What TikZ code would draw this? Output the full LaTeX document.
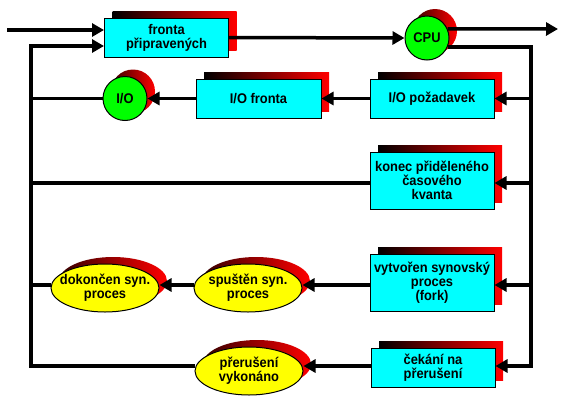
\documentclass[tikz,border=0pt]{standalone}
\usepackage{fontspec}
\setmainfont{Liberation Sans}[FakeStretch=0.92]
\usetikzlibrary{arrows.meta,shapes.geometric,shadows}
\definecolor{cy}{RGB}{0,255,255}
\definecolor{gr}{RGB}{0,255,0}
\definecolor{ye}{RGB}{255,255,0}
\definecolor{rd}{RGB}{255,0,0}
\begin{document}
\begin{tikzpicture}[x=1pt,y=-1pt,
  every node/.style={font=\fontsize{14}{14}\selectfont\bfseries, align=center, inner sep=0pt},
  sh/.style={general shadow={left color=black,right color=rd,shadow xshift=8pt,shadow yshift=7pt}},
  csh/.style={general shadow={left color=rd!20!black,right color=rd,shadow xshift=8pt,shadow yshift=7pt}},
  box/.style={sh, draw=black, line width=1pt, fill=cy, minimum width=124pt},
  cbox/.style={csh, circle, draw=black, line width=1pt, fill=gr, minimum size=44pt},
  ebox/.style={csh, ellipse, draw=black, line width=1pt, fill=ye, minimum width=108pt, minimum height=48pt, inner xsep=-8pt},
  ln/.style={line width=3.5pt, draw=black},
  arr/.style={ln, -{Triangle[length=12pt,width=13pt]}}
]
\useasboundingbox (0,0) rectangle (562,402);

\node[box, minimum height=39pt] (fronta) at (166.5,37.5) {fronta\\připravených};
\node[cbox] (CPU) at (427,38) {CPU};
\node[box, minimum height=39pt] (iopoz) at (432,98.5) {I/O požadavek};
\node[box, minimum height=39pt, minimum width=125pt] (iofr) at (258.5,98.5) {I/O fronta};
\node[cbox] (iocirc) at (125,98.5) {I/O};
\node[box, minimum height=57pt] (konec) at (432,180.5) {konec přiděleného\\časového\\kvanta};
\node[box, minimum height=57pt] (vytv) at (432,282.5) {vytvořen synovský\\proces\\(fork)};
\node[box, minimum height=39pt] (cek) at (433,367.5) {čekání na\\přerušení};
\node[ebox] (spust) at (248,288) {spuštěn syn.\\proces};
\node[ebox] (dokon) at (105,288) {dokončen syn.\\proces};
\node[ebox] (prer) at (249,371) {přerušení\\vykonáno};

\coordinate (lbT) at (31,46);
\coordinate (inS) at (7,30);
\coordinate (outE) at (558,29);
\coordinate (rbB) at (531,366);
\coordinate (r3) at (0,183);
\coordinate (r4) at (0,285);
\coordinate (r5) at (0,366);

\draw[arr] (inS) -- (fronta.west |- inS);
\draw[arr] (prer.west |- r5) -| (lbT) -- (fronta.west |- lbT);
\draw[ln] (iocirc.west) -- (iocirc.west -| lbT);
\draw[ln] (konec.west |- r3) -- (lbT |- r3);
\draw[ln] (dokon.west |- r4) -- (lbT |- r4);
\draw[arr] (fronta.east) -- (CPU.west);
\draw[arr] (CPU.24) -- (outE);
\draw[arr] (CPU.-24) -| (rbB) -- (cek.east |- rbB);
\draw[arr] (iopoz.east -| rbB) -- (iopoz.east);
\draw[arr] (rbB |- r3) -- (konec.east |- r3);
\draw[arr] (rbB |- r4) -- (vytv.east |- r4);
\draw[arr] (iopoz.west) -- (iofr.east);
\draw[arr] (iofr.west) -- (iocirc.east);
\draw[arr] (vytv.west |- r4) -- (spust.east |- r4);
\draw[arr] (spust.west |- r4) -- (dokon.east |- r4);
\draw[arr] (cek.west |- r5) -- (prer.east |- r5);
\end{tikzpicture}
\end{document}
